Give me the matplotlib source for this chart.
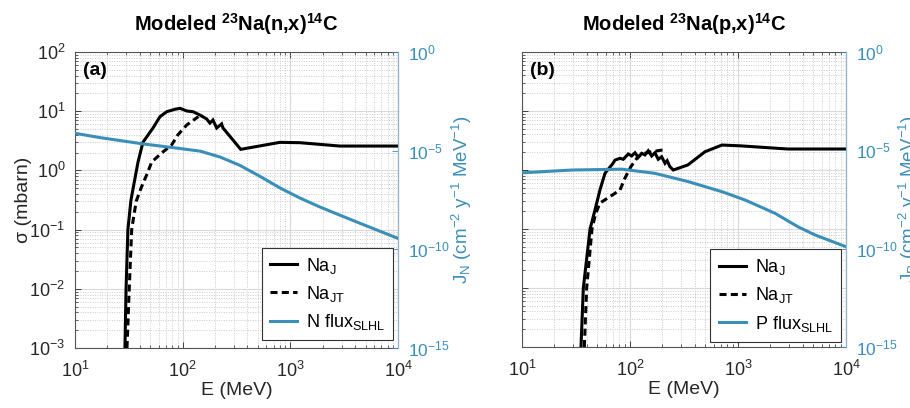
import matplotlib
matplotlib.use("Agg")
import matplotlib.pyplot as plt
import numpy as np
from matplotlib.ticker import LogLocator, NullFormatter, NullLocator

plt.rcParams['font.family'] = ['Liberation Sans', 'DejaVu Sans']
plt.rcParams['mathtext.fontset'] = 'custom'
plt.rcParams['mathtext.rm'] = 'Liberation Sans'
plt.rcParams['mathtext.it'] = 'Liberation Sans:italic'
plt.rcParams['mathtext.bf'] = 'Liberation Sans:bold'
plt.rcParams['mathtext.default'] = 'regular'
plt.rcParams['axes.unicode_minus'] = False

# ---------------- data ----------------
# Panel (a): 23Na(n,x)14C
a_naj_E = [29.1, 29.8, 31.0, 33.1, 38.5, 42.8, 53, 61.5, 71, 84.9, 94.5, 109, 125, 145,
           167, 179, 191, 207, 230, 237, 346, 800, 1227, 2884, 10000]
a_naj_s = [1e-3, 0.01, 0.1, 0.316, 1.39, 3.0, 5.2, 8.07, 9.8, 10.8, 11.2, 10.1, 9.8, 8.6,
           7.4, 6.3, 7.1, 5.2, 6.1, 5.2, 2.27, 2.98, 2.94, 2.58, 2.58]

a_najt_E = [30.4, 31.9, 33.6, 37.0, 41.0, 46.4, 51.6, 63.8, 79, 90, 109, 125, 140]
a_najt_s = [1e-3, 0.01, 0.1, 0.3, 0.5, 0.85, 1.39, 1.97, 2.69, 3.96, 5.85, 7.0, 8.1]

a_flux_E = [10, 17.1, 43, 76, 145, 222, 340, 523, 800, 1227, 1884, 2884, 4426, 6792, 10000]
a_flux_J = [7.6e-5, 4.6e-5, 2.2e-5, 1.5e-5, 9.5e-6, 4.8e-6, 1.8e-6, 5.0e-7, 1.3e-7,
            4.0e-8, 1.4e-8, 5.4e-9, 2.1e-9, 8.3e-10, 3.6e-10]

# Panel (b): 23Na(p,x)14C
b_naj_E = [35.2, 37, 42.7, 47.4, 52.7, 58.7, 69.7, 72.6, 80.8, 86.7, 96.4, 103.7, 111.3,
           119.4, 128.3, 137.6, 147.6, 158.7, 170.3, 182.8, 196.6, 211, 221, 234.4, 251.8,
           344, 495, 711, 1047, 2904, 10000]
b_naj_s = [1e-3, 0.01, 0.1, 0.209, 0.457, 0.88, 1.30, 1.47, 1.58, 1.52, 1.87, 1.73, 1.96,
           1.64, 1.92, 1.80, 2.12, 1.73, 1.96, 1.52, 1.68, 1.30, 1.44, 1.14, 1.0,
           1.22, 2.04, 2.65, 2.57, 2.27, 2.27]

b_najt_E = [37.8, 39.7, 44.5, 48, 52.7, 65.3, 80.8, 89.9, 102, 118.5, 135, 153, 175, 202]
b_najt_s = [1e-3, 0.01, 0.1, 0.18, 0.275, 0.355, 0.457, 0.73, 1.14, 1.68, 1.9, 2.02, 2.1, 2.19]

b_flux_E = [10, 29.0, 84.3, 170, 344, 711, 1161, 2203, 3597, 5164, 10000]
b_flux_J = [7.2e-7, 1.0e-6, 1.1e-6, 6.8e-7, 2.6e-7, 7.9e-8, 3.0e-8, 6.3e-9, 1.3e-9,
            5.0e-10, 1.26e-10]

titles = [r'Modeled $\mathbf{^{23}}$Na(n,x)$\mathbf{^{14}}$C',
          r'Modeled $\mathbf{^{23}}$Na(p,x)$\mathbf{^{14}}$C']
panel_tags = ['(a)', '(b)']
legend_labels_a = [r'Na$_{J}$', r'Na$_{JT}$', r'N flux$_{SLHL}$']
legend_labels_b = [r'Na$_{J}$', r'Na$_{JT}$', r'P flux$_{SLHL}$']
right_labels = [r'J$_N$ (cm$^{-2}$ y$^{-1}$ MeV$^{-1}$)',
                r'J$_P$ (cm$^{-2}$ y$^{-1}$ MeV$^{-1}$)']
xticks = [1e1, 1e2, 1e3, 1e4]
yticks_left = [1e-3, 1e-2, 1e-1, 1e0, 1e1, 1e2]
yticks_right = [1e-15, 1e-10, 1e-5, 1e0]

BLUE = '#3a8fb9'
AXC = '#262626'

fig = plt.figure(figsize=(9.10, 4.08), dpi=100)
ax_a = fig.add_axes([0.0824, 0.147, 0.355, 0.7255])
ax_b = fig.add_axes([0.5736, 0.1495, 0.356, 0.723])

panels = [
    (ax_a, a_naj_E, a_naj_s, a_najt_E, a_najt_s, a_flux_E, a_flux_J, legend_labels_a,
     (0.985, 0.027)),
    (ax_b, b_naj_E, b_naj_s, b_najt_E, b_najt_s, b_flux_E, b_flux_J, legend_labels_b,
     (0.985, 0.018)),
]

for i, (ax, E1, s1, E2, s2, Ef, Jf, labs, anchor) in enumerate(panels):
    ax.set_xscale('log')
    ax.set_yscale('log')
    ax.set_xlim(1e1, 1e4)
    ax.set_ylim(1e-3, 1e2)
    ax.set_xticks(xticks)
    ax.set_yticks(yticks_left)
    ax.xaxis.set_minor_locator(LogLocator(base=10, subs=np.arange(2, 10), numticks=20))
    ax.yaxis.set_minor_locator(LogLocator(base=10, subs=np.arange(2, 10), numticks=20))
    ax.xaxis.set_minor_formatter(NullFormatter())
    ax.yaxis.set_minor_formatter(NullFormatter())
    ax.grid(True, which='major', color='#d9d9d9', linewidth=0.8, linestyle='-')
    ax.grid(True, which='minor', color='#cccccc', linewidth=0.7, linestyle=(0, (1, 1.5)))
    ax.set_axisbelow(True)
    ax.tick_params(which='both', direction='in', top=True, right=False, colors=AXC,
                   labelsize=13)
    ax.tick_params(which='major', length=4, width=0.6)
    ax.tick_params(which='minor', length=2, width=0.5)
    ax.tick_params(axis='x', pad=9)
    ax.tick_params(axis='y', pad=7)
    for sp in ax.spines.values():
        sp.set_color('#555555')
        sp.set_linewidth(0.8)
    if i == 1:
        ax.set_yticklabels([])
    else:
        ax.set_ylabel('σ (mbarn)', fontsize=14, labelpad=-2, color=AXC)
    ax.set_xlabel('E (MeV)', fontsize=14, labelpad=1, color=AXC)
    ax.set_title(titles[i], fontsize=14.5, fontweight='bold', pad=15)
    ax.text(0.026, 0.966, panel_tags[i], transform=ax.transAxes, fontsize=14,
            fontweight='bold', va='top', ha='left')

    l1, = ax.plot(E1, s1, color='black', linewidth=2.2, solid_joinstyle='miter')
    l2, = ax.plot(E2, s2, color='black', linewidth=2.2, linestyle=(0, (2.3, 1.4)))

    axr = ax.twinx()
    axr.set_yscale('log')
    axr.set_ylim(1e-15, 1e0)
    axr.set_yticks(yticks_right)
    axr.yaxis.set_minor_locator(NullLocator())
    axr.tick_params(axis='y', direction='in', colors=BLUE, labelsize=12.5, pad=7,
                    length=4, width=0.6)
    axr.spines['right'].set_color('#8fb6cc')
    for k in ['left', 'top', 'bottom']:
        axr.spines[k].set_visible(False)
    axr.set_ylabel(right_labels[i], fontsize=13.5, color=BLUE, labelpad=0)
    l3, = axr.plot(Ef, Jf, color=BLUE, linewidth=2.2)

    leg = axr.legend([l1, l2, l3], labs, loc='lower right', bbox_to_anchor=anchor,
                     borderaxespad=0, fontsize=13, frameon=True, fancybox=False,
                     edgecolor='#333333', framealpha=1, handlelength=1.5,
                     handletextpad=0.5, labelspacing=0.45, borderpad=0.45)
    leg.get_frame().set_linewidth(0.8)

fig.savefig('out.png', dpi=100)
